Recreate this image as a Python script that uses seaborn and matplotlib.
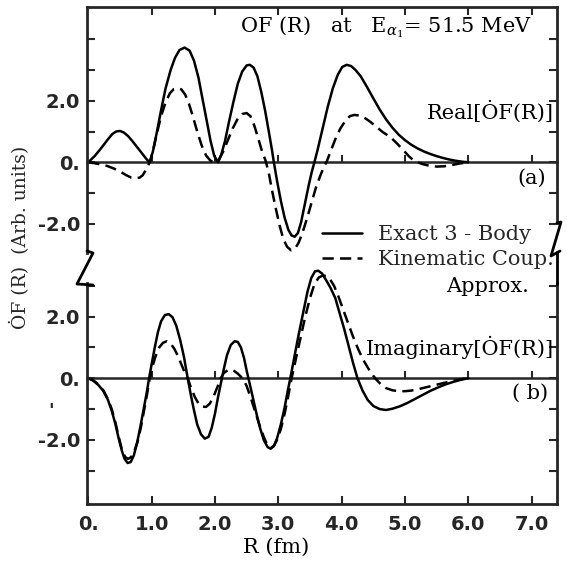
import matplotlib
matplotlib.use("Agg")
import matplotlib.pyplot as plt
from matplotlib.lines import Line2D
import pandas as pd
import seaborn as sns

# ---- data ---------------------------------------------------------------
# (a) Real part, exact 3-body
r_re_exact = [0.0, 0.1, 0.2, 0.3, 0.38, 0.44, 0.5, 0.56, 0.63, 0.7, 0.78,
              0.86, 0.92, 0.97,
              1.02, 1.08, 1.15, 1.22, 1.3, 1.37, 1.44, 1.52, 1.6, 1.67, 1.74,
              1.8, 1.87, 1.93, 1.99, 2.05,
              2.1, 2.16, 2.22, 2.29, 2.36, 2.43, 2.5, 2.55, 2.61, 2.67, 2.73,
              2.79, 2.85, 2.9, 2.93,
              2.98, 3.04, 3.1, 3.16, 3.21, 3.26, 3.31, 3.36, 3.42, 3.48, 3.53,
              3.57,
              3.62, 3.7, 3.78, 3.86, 3.94, 4.01, 4.08, 4.15, 4.22, 4.3, 4.4,
              4.5, 4.6, 4.7, 4.8, 4.9, 5.0, 5.1, 5.2, 5.3, 5.4, 5.5, 5.6, 5.7,
              5.8, 5.9, 6.0]
v_re_exact = [0.0, 0.2, 0.45, 0.72, 0.92, 1.0, 1.02, 0.97, 0.85, 0.68, 0.47,
              0.26, 0.1, 0.0,
              0.35, 0.95, 1.7, 2.4, 3.0, 3.4, 3.65, 3.73, 3.63, 3.3, 2.75,
              2.1, 1.35, 0.7, 0.2, 0.0,
              0.25, 0.7, 1.3, 1.95, 2.55, 2.95, 3.15, 3.17, 3.08, 2.8, 2.3,
              1.7, 1.0, 0.4, 0.0,
              -0.6, -1.25, -1.8, -2.2, -2.38, -2.42, -2.3, -1.95, -1.35,
              -0.75, -0.3, 0.0,
              0.4, 1.1, 1.8, 2.4, 2.85, 3.1, 3.17, 3.13, 3.0, 2.8, 2.45,
              2.08, 1.72, 1.4, 1.13, 0.9, 0.72, 0.57, 0.45, 0.35, 0.27, 0.2,
              0.14, 0.09, 0.05, 0.02, 0.0]

# (a) Real part, kinematic coupling approx.
r_re_kin = [0.0, 0.1, 0.2, 0.3, 0.4, 0.5, 0.6, 0.68, 0.75, 0.81, 0.86, 0.91,
            0.95, 0.98,
            1.03, 1.09, 1.15, 1.22, 1.29, 1.35, 1.41, 1.47, 1.53, 1.59, 1.65,
            1.72, 1.79, 1.86, 1.93, 2.0,
            2.06, 2.13, 2.2, 2.28, 2.36, 2.43, 2.5, 2.56, 2.62, 2.68, 2.74,
            2.8, 2.85,
            2.9, 2.96, 3.02, 3.08, 3.14, 3.2, 3.26, 3.32, 3.38, 3.45, 3.52,
            3.59, 3.66, 3.72, 3.77,
            3.83, 3.9, 3.98, 4.06, 4.13, 4.2, 4.28, 4.36, 4.45, 4.55, 4.65,
            4.77, 4.88, 4.98, 5.06, 5.13, 5.2,
            5.28, 5.38, 5.5, 5.62, 5.74, 5.86, 6.0]
v_re_kin = [0.0, -0.03, -0.07, -0.12, -0.2, -0.3, -0.42, -0.5, -0.52, -0.5,
            -0.42, -0.25, -0.08, 0.05,
            0.45, 1.0, 1.5, 1.95, 2.25, 2.38, 2.41, 2.37, 2.2, 1.9, 1.5,
            1.0, 0.55, 0.22, 0.05, 0.0,
            0.08, 0.35, 0.7, 1.1, 1.42, 1.57, 1.6, 1.5, 1.2, 0.8, 0.38,
            0.05, -0.35,
            -0.9, -1.5, -2.05, -2.5, -2.75, -2.86, -2.82, -2.62, -2.3, -1.85,
            -1.35, -0.85, -0.45, -0.15, 0.05,
            0.38, 0.75, 1.1, 1.35, 1.5, 1.54, 1.52, 1.45, 1.32, 1.15, 0.98,
            0.82, 0.6, 0.38, 0.2, 0.07, 0.0,
            -0.06, -0.11, -0.14, -0.13, -0.09, -0.04, 0.0]

# (b) Imaginary part, exact 3-body
r_im_exact = [0.0, 0.08, 0.16, 0.24, 0.31, 0.37, 0.43, 0.48, 0.53, 0.57, 0.62,
              0.67, 0.72, 0.77, 0.82, 0.87, 0.92, 0.96,
              1.0, 1.05, 1.1, 1.15, 1.21, 1.27, 1.33, 1.39, 1.45, 1.51, 1.57,
              1.62, 1.67, 1.72, 1.78, 1.84, 1.9, 1.95, 2.0, 2.05, 2.1,
              2.14, 2.19, 2.25, 2.31, 2.36, 2.41, 2.46, 2.5, 2.54,
              2.59, 2.65, 2.71, 2.77, 2.83, 2.88, 2.93, 2.98, 3.04, 3.1, 3.15,
              3.19,
              3.25, 3.32, 3.39, 3.46, 3.52, 3.58, 3.63, 3.69, 3.75, 3.82, 3.9,
              3.97, 4.04, 4.11, 4.18, 4.25,
              4.33, 4.41, 4.5, 4.6, 4.7, 4.8, 4.92, 5.04, 5.16, 5.28, 5.4,
              5.52, 5.64, 5.76, 5.88, 6.0]
v_im_exact = [0.0, -0.08, -0.22, -0.42, -0.7, -1.05, -1.5, -1.95, -2.35,
              -2.6, -2.75, -2.72, -2.5, -2.1, -1.6, -1.05, -0.5, 0.0,
              0.45, 1.0, 1.5, 1.85, 2.05, 2.08, 1.98, 1.7, 1.25, 0.7, 0.0,
              -0.55, -1.05, -1.5, -1.82, -1.96, -1.9, -1.6, -1.15, -0.6, -0.1,
              0.3, 0.75, 1.08, 1.2, 1.18, 1.0, 0.65, 0.25, -0.1,
              -0.55, -1.1, -1.6, -2.0, -2.23, -2.29, -2.2, -1.95, -1.5, -0.95,
              -0.4, 0.0,
              0.65, 1.4, 2.1, 2.8, 3.25, 3.47, 3.49, 3.4, 3.2, 2.95, 2.6,
              2.1, 1.6, 1.05, 0.5, 0.0,
              -0.4, -0.7, -0.9, -1.0, -1.03, -0.99, -0.91, -0.8, -0.67, -0.54,
              -0.41, -0.3, -0.2, -0.12, -0.05, 0.0]

# (b) Imaginary part, kinematic coupling approx.
r_im_kin = [0.0, 0.08, 0.16, 0.24, 0.31, 0.37, 0.43, 0.48, 0.53, 0.58, 0.63,
            0.68, 0.73, 0.78, 0.83, 0.88, 0.93, 0.97,
            1.01, 1.06, 1.12, 1.18, 1.24, 1.3, 1.36, 1.42, 1.48, 1.53, 1.57,
            1.62, 1.68, 1.74, 1.8, 1.86, 1.92, 1.98, 2.04, 2.09,
            2.14, 2.2, 2.25, 2.3, 2.36, 2.41, 2.45,
            2.5, 2.56, 2.63, 2.7, 2.77, 2.83, 2.88, 2.93, 2.98, 3.04, 3.1,
            3.16, 3.21,
            3.28, 3.35, 3.42, 3.5, 3.57, 3.64, 3.7, 3.76, 3.82, 3.88, 3.95,
            4.02, 4.1, 4.18, 4.26, 4.34, 4.42, 4.5, 4.55,
            4.62, 4.7, 4.8, 4.9, 5.0, 5.1, 5.22, 5.34, 5.46, 5.58, 5.7, 5.82,
            5.92, 6.0]
v_im_kin = [0.0, -0.07, -0.2, -0.4, -0.68, -1.0, -1.45, -1.9, -2.3, -2.55,
            -2.62, -2.55, -2.35, -2.05, -1.6, -1.05, -0.5, 0.0,
            0.35, 0.7, 1.0, 1.15, 1.2, 1.13, 0.95, 0.7, 0.4, 0.15, 0.0,
            -0.3, -0.6, -0.82, -0.92, -0.93, -0.82, -0.58, -0.28, 0.0,
            0.17, 0.26, 0.28, 0.24, 0.15, 0.05, -0.05,
            -0.25, -0.6, -1.05, -1.5, -1.9, -2.18, -2.25, -2.2, -2.0, -1.65,
            -1.15, -0.55, 0.0,
            0.65, 1.3, 1.95, 2.6, 3.05, 3.27, 3.33, 3.32, 3.2, 3.0, 2.65,
            2.25, 1.8, 1.35, 0.95, 0.6, 0.32, 0.08, -0.05,
            -0.2, -0.32, -0.39, -0.42, -0.42, -0.4, -0.35, -0.29, -0.23,
            -0.17, -0.11, -0.06, -0.02, 0.0]

x_ticks = [0, 1, 2, 3, 4, 5, 6, 7]
x_labels = ["0.", "1.0", "2.0", "3.0", "4.0", "5.0", "6.0", "7.0"]
y_ticks_a = [-2, -1, 0, 1, 2, 3, 4]
y_ticks_b = [-3, -2, -1, 0, 1, 2, 3]
y_labels = {-2: "-2.0", 0: "0.", 2: "2.0"}

legend_labels = ["Exact 3 - Body", "Kinematic Coup."]

sns.set_style("ticks")
plt.rcParams["font.family"] = ["DejaVu Serif"]
plt.rcParams["mathtext.fontset"] = "dejavuserif"

W = H = 567
fig = plt.figure(figsize=(5.67, 5.67), dpi=100)


def fx(px):
  return px / W


def fy(py):
  return 1 - py / H


ax_a = fig.add_axes([fx(87), fy(253), fx(557) - fx(87), fy(7) - fy(253)])
ax_b = fig.add_axes([fx(87), fy(504), fx(557) - fx(87), fy(283) - fy(504)])

LW = 1.8
DASH = (0, (4.5, 2.5))
tick_font = dict(family="DejaVu Sans", weight="bold", size=14)


def curve(ax, r, v, ls):
  df = pd.DataFrame({"R": r, "v": v})
  sns.lineplot(data=df, x="R", y="v", ax=ax, color="black", lw=LW,
               linestyle=ls, sort=False, estimator=None, legend=False,
               clip_on=False)


curve(ax_a, r_re_exact, v_re_exact, "-")
curve(ax_a, r_re_kin, v_re_kin, DASH)
curve(ax_b, r_im_exact, v_im_exact, "-")
curve(ax_b, r_im_kin, v_im_kin, DASH)

ax_a.set_ylim(-2.95, 5.05)
ax_b.set_ylim(-4.08, 3.09)

for ax, yt in ((ax_a, y_ticks_a), (ax_b, y_ticks_b)):
  ax.set_xlim(-0.02, 7.4)
  ax.set_xlabel("")
  ax.set_ylabel("")
  ax.set_yticks(yt, [y_labels.get(t, "") for t in yt])
  ax.yaxis.set_ticks_position("both")
  ax.tick_params(axis="y", direction="in", length=6, width=1.5, pad=5,
                 labelright=False)
  for lab in ax.get_yticklabels():
    lab.set_fontproperties(tick_font)
  for s in ax.spines.values():
    s.set_linewidth(2.0)
  # zero line with its own small ticks
  sec = ax.secondary_xaxis(0, transform=ax.transData)
  sec.set_xticks(x_ticks[1:])
  sec.tick_params(direction="in", length=5, width=1.5,
                  labelbottom=False, labeltop=False)
  sec.spines["bottom"].set_linewidth(1.8)

# panel (a): top frame only
ax_a.spines["bottom"].set_visible(False)
ax_a.spines["right"].set_bounds(-1.98, 5.05)
ax_a.xaxis.set_ticks_position("top")
ax_a.set_xticks(x_ticks[1:])
ax_a.tick_params(axis="x", direction="in", length=6, width=1.5,
                 labeltop=False, labelbottom=False)

# panel (b): bottom axis
ax_b.spines["top"].set_visible(False)
ax_b.xaxis.set_ticks_position("bottom")
ax_b.set_xticks(x_ticks, x_labels)
ax_b.tick_params(axis="x", direction="in", length=6, width=1.5, pad=8)
for lab in ax_b.get_xticklabels():
  lab.set_fontproperties(tick_font)

# axis breaks
brk = dict(color="black", lw=2.0, transform=fig.transFigure)
left_brk = [(87, 251), (93, 253), (77, 284), (93, 285)]
right_brk = [(557, 223), (561, 222), (551, 256), (560, 251)]
for pts in (left_brk, right_brk):
  fig.add_artist(Line2D([fx(p[0]) for p in pts], [fy(p[1]) for p in pts],
                        **brk))
fig.add_artist(Line2D([fx(557), fx(557)], [fy(252), fy(284)], **brk))

# texts
txt = dict(fontsize=15, color="black")
fig.text(fx(386), fy(27), r"OF (R)   at   E$_{\alpha_1}$= 51.5 MeV",
         ha="center", va="center", **txt)
fig.text(fx(554), fy(112), "Real[ȮF(R)]", ha="right", va="center", **txt)
fig.text(fx(546), fy(178), "(a)", ha="right", va="center", **txt)
fig.text(fx(554), fy(347), "Imaginary[ȮF(R)]", ha="right", va="center",
         **txt)
fig.text(fx(548), fy(393), "( b)", ha="right", va="center", **txt)
fig.text(fx(20), fy(237), "ȮF (R)  (Arb. units)", rotation=90,
         ha="center", va="center", fontsize=13.5)
fig.text(fx(51), fy(412), "'", ha="center", va="center", fontsize=13,
         weight="bold")
fig.text(fx(276), fy(547), "R (fm)", ha="center", va="center", **txt)
fig.text(fx(488), fy(286), "Approx.", ha="center", va="center", **txt)

fig.legend(handles=ax_a.lines[:2], labels=legend_labels,
           loc="center left", bbox_to_anchor=(fx(322), fy(247)),
           frameon=False, fontsize=15, handlelength=1.9,
           handletextpad=0.8, labelspacing=0.3, borderpad=0,
           borderaxespad=0)

fig.savefig("out.png", dpi=100)
